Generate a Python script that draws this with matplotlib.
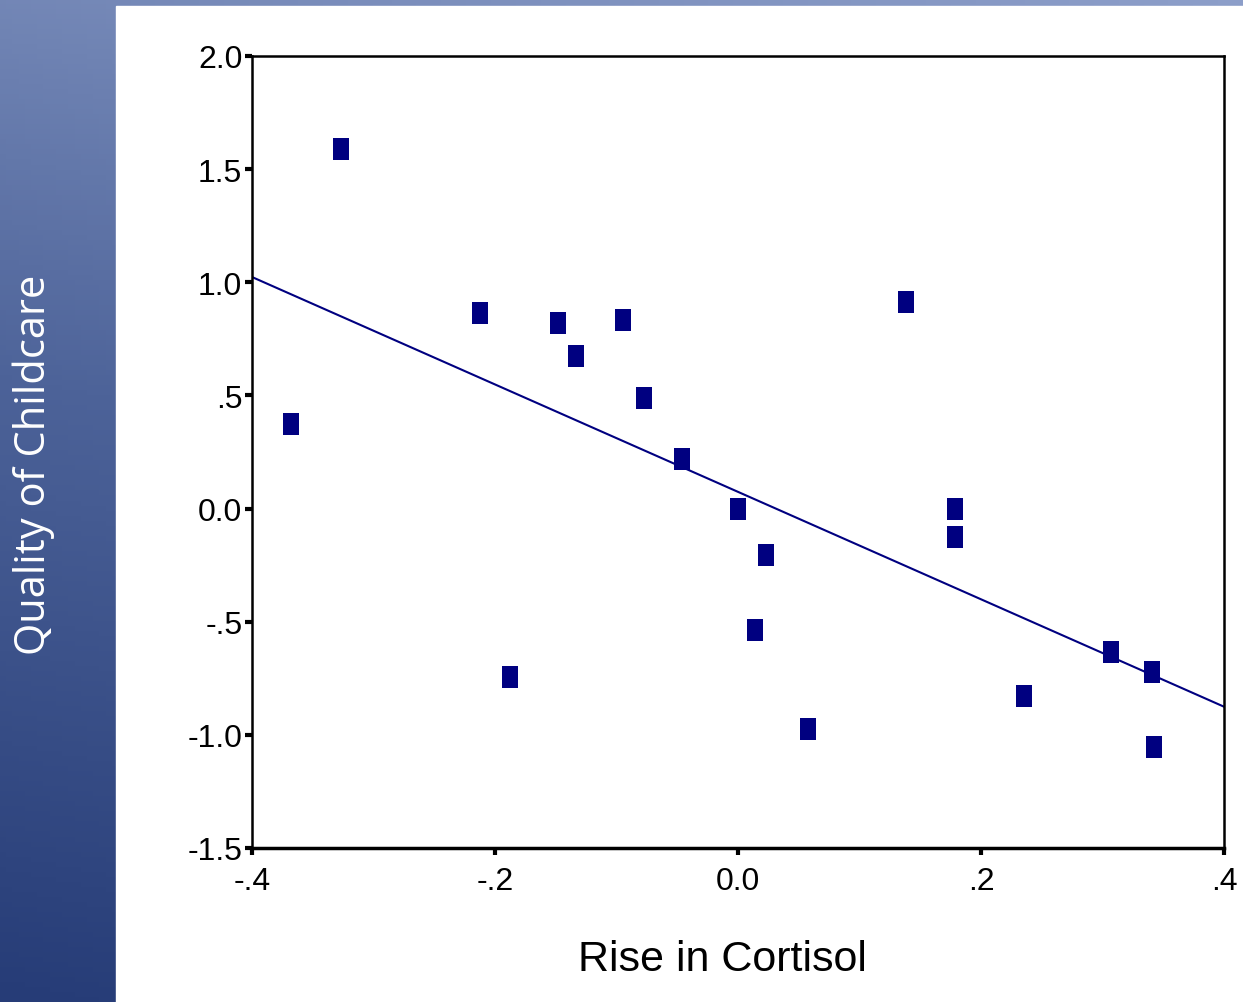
import matplotlib

matplotlib.use("Agg")
import matplotlib.pyplot as plt
import numpy as np
from matplotlib.colors import LinearSegmentedColormap

# rise in cortisol vs quality of childcare
cortisol = [-0.327, -0.368, -0.212, -0.188, -0.148, -0.133, -0.095, -0.077, -0.046, 0.000,
            0.023, 0.014, 0.058, 0.138, 0.179, 0.179, 0.235, 0.307, 0.341, 0.342]
quality = [1.589, 0.374, 0.864, -0.744, 0.820, 0.674, 0.833, 0.489, 0.219, -0.002,
           -0.205, -0.536, -0.974, 0.913, -0.002, -0.125, -0.828, -0.634, -0.722, -1.053]

x_ticks = [-0.4, -0.2, 0.0, 0.2, 0.4]
x_labels = ["-.4", "-.2", "0.0", ".2", ".4"]
y_ticks = [-1.5, -1.0, -0.5, 0.0, 0.5, 1.0, 1.5, 2.0]
y_labels = ["-1.5", "-1.0", "-.5", "0.0", ".5", "1.0", "1.5", "2.0"]

NARROW = ["Liberation Sans Narrow", "Liberation Sans", "DejaVu Sans"]
NAVY = "#000080"

W, H = 1243, 1003
fig = plt.figure(figsize=(W / 100, H / 100), dpi=100)

# slide background: blue gradient strip on the left, thin band on top
bg = fig.add_axes([0, 0, 1, 1], zorder=-10)
bg.set_axis_off()
cmap = LinearSegmentedColormap.from_list("slide", ["#263c77", "#4d6399", "#8c9ec9"])
gy, gx = np.mgrid[0:1:200j, 0:1:200j]
grad = gy * 0.8 + gx * 0.2
bg.imshow(grad, cmap=cmap, origin="lower", extent=(0, W, 0, H), aspect="auto")
bg.add_patch(plt.Rectangle((116, 0), W - 116, H - 7, color="white"))
bg.set_xlim(0, W)
bg.set_ylim(0, H)

ax = fig.add_axes([252 / W, 1 - 849 / H, (1224 - 252) / W, (849 - 57) / H])
ax.scatter(cortisol, quality, marker=[(-0.36, -0.5), (0.36, -0.5), (0.36, 0.5), (-0.36, 0.5)],
           s=21 ** 2 * 0.52, color=NAVY, linewidths=0, zorder=3)

slope, intercept = np.polyfit(cortisol, quality, 1)
xs = np.array([-0.4, 0.4])
ax.plot(xs, intercept + slope * xs, color=NAVY, linewidth=1.5, zorder=2)

ax.set_xlim(-0.4, 0.4)
ax.set_ylim(-1.5, 2.0)
ax.set_xticks(x_ticks)
ax.set_xticklabels(x_labels)
ax.set_yticks(y_ticks)
ax.set_yticklabels(y_labels)
ax.tick_params(axis="both", direction="out", length=5, width=3, labelsize=23, pad=2)
ax.tick_params(axis="x", pad=8)
for lab in ax.get_xticklabels() + ax.get_yticklabels():
    lab.set_family(NARROW)
for side in ["left", "top", "right"]:
    ax.spines[side].set_linewidth(1.8)
ax.spines["bottom"].set_linewidth(2.5)

fig.text(722 / W, 1 - 960 / H, "Rise in Cortisol", ha="center", va="center",
         fontsize=31, family=NARROW)
fig.text(34 / W, 1 - 465 / H, "Quality of Childcare", ha="center", va="center",
         rotation=90, fontsize=30, color="white", family=["Open Sans", "DejaVu Sans"])

fig.savefig("out.png", dpi=100)
